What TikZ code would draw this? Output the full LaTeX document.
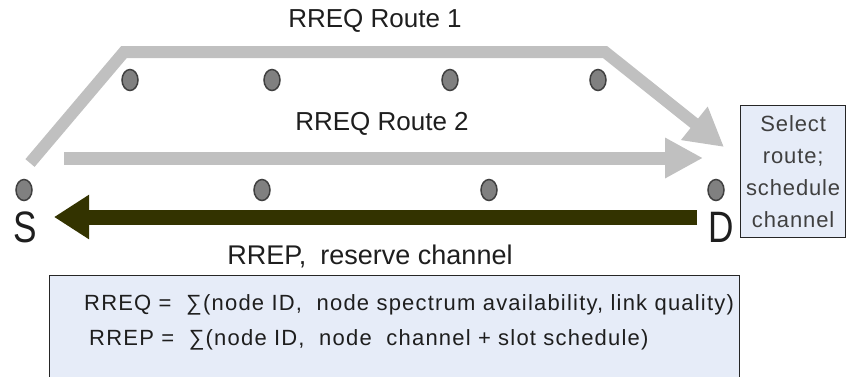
\documentclass[tikz,border=0pt]{standalone}
\usepackage{fontspec}
\setmainfont{Liberation Sans}
\newfontfamily\spacedfont[LetterSpace=4]{Liberation Sans}
\newfontfamily\widefont[LetterSpace=5.5]{Liberation Sans}
\newfontfamily\narrowfont[FakeStretch=0.8]{Liberation Sans}
\usetikzlibrary{arrows.meta,shapes.geometric}
\definecolor{routegray}{HTML}{C0C0C0}
\definecolor{replyolive}{HTML}{333300}
\definecolor{boxfill}{HTML}{E6ECF8}
\definecolor{dotfill}{HTML}{808080}
\definecolor{dotline}{HTML}{404040}
\definecolor{ink}{HTML}{1E1E1E}

\begin{document}
\begin{tikzpicture}[x=1pt,y=-1pt,
  relay/.style={ellipse,draw=dotline,fill=dotfill,line width=1.5pt,
    minimum width=16pt,minimum height=21pt,inner sep=0pt},
  caption/.style={font=\fontsize{26}{30}\selectfont,text=ink,inner sep=0pt},
  endpoint/.style={font=\narrowfont\fontsize{44}{44}\selectfont,text=ink,inner sep=0pt},
  infobox/.style={draw=black!85,fill=boxfill,line width=1.3pt,inner sep=0pt},
  boxtext/.style={font=\widefont\fontsize{22}{26}\selectfont,text=ink,anchor=west,inner sep=0pt},
  reqarrow/.style={draw=routegray,line width=12pt,line join=miter},
  reparrow/.style={draw=replyolive,line width=15pt},
]
\useasboundingbox (0,0) rectangle (847,376);

% relay nodes on the upper route
\node[relay] (u1) at (130,80) {};
\node[relay] (u2) at (272,80) {};
\node[relay] (u3) at (450,80) {};
\node[relay] (u4) at (598,80) {};

% source, destination and relays on the direct route
\node[relay] (s) at (24,190) {};
\node[relay] (m1) at (262,190) {};
\node[relay] (m2) at (489,190) {};
\node[relay] (d) at (716,190) {};
\node[endpoint] (sl) at (25,227) {S};
\node[endpoint] (dl) at (721,227) {D};

% route request along route 1
\coordinate (r1a) at (30,163);
\coordinate (r1b) at (124,52);
\coordinate (r1c) at (605,52);
\coordinate (r1d) at (724,147);
\draw[reqarrow,-{Triangle[length=38pt,width=40pt]}] (r1a) -- (r1b) -- (r1c) -- (r1d);
\node[caption] (t1) at (375,21) {RREQ Route 1};

% route request along route 2
\coordinate (r2a) at (64,158);
\coordinate (r2b) at (703,158);
\draw[reqarrow,line width=13pt,-{Triangle[length=38pt,width=38pt]}] (r2a) -- (r2b);
\node[caption] (t2) at (382,124) {RREQ Route 2};

% route reply back to the source
\coordinate (rpa) at (697,217);
\coordinate (rpb) at (54,217);
\draw[reparrow,-{Triangle[length=35pt,width=42pt]}] (rpa) -- (rpb);
\node[caption,font=\fontsize{27}{30}\selectfont] (t3) at (370,256) {RREP,\hspace{14pt}reserve channel};

% decision box at the destination
\node[infobox,anchor=north west,minimum width=105pt,minimum height=132pt] (sel) at (740,105) {};
\node[font=\spacedfont\fontsize{22}{32}\selectfont,text=black!75,align=center,inner sep=0pt]
  (selt) at (sel.center) {Select\\route;\\schedule\\channel};

% message contents
\node[infobox,anchor=north west,minimum width=690pt,minimum height=110pt] (msg) at (49,275) {};
\node[boxtext] (req) at (84,305)
  {RREQ =\ \ ∑(node ID,\ \ node spectrum availability, link quality)};
\node[boxtext] (rep) at (89,340)
  {RREP =\ \ ∑(node ID,\ \ node\ \ channel + slot schedule)};
\end{tikzpicture}
\end{document}
